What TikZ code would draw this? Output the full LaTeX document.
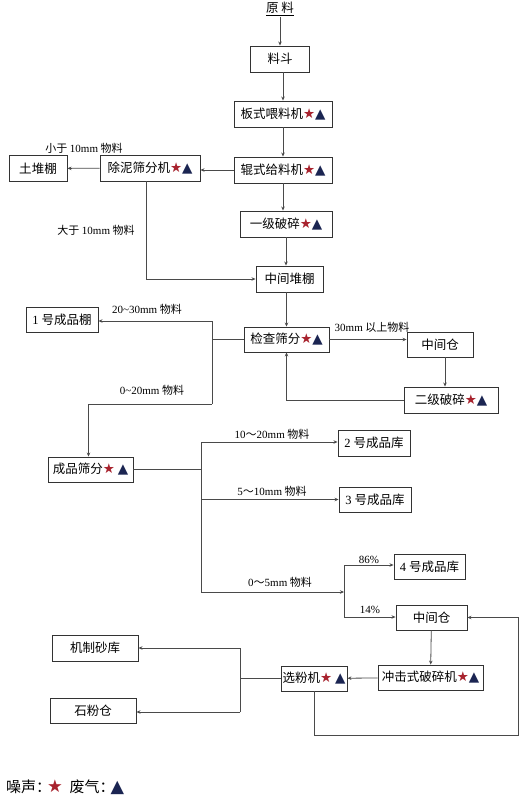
\documentclass[tikz,border=0pt]{standalone}
\usepackage{fontspec}
\setmainfont{Noto Sans CJK SC}
\newfontfamily\latin{Liberation Serif}
\newfontfamily\symfont{DejaVu Sans}
\usetikzlibrary{arrows.meta, calc}
\definecolor{pfInk}{HTML}{333333}
\definecolor{pfLine}{HTML}{4A4A4A}
\definecolor{pfRed}{HTML}{A8232E}
\definecolor{pfNavy}{HTML}{1B2552}
\newcommand{\noise}{{\symfont\fontsize{13.5}{14}\selectfont\textcolor{pfRed}{★}}}
\newcommand{\gas}{{\symfont\fontsize{13.5}{14}\selectfont\textcolor{pfNavy}{▲}}}
\newcommand{\num}[1]{{\latin #1}}
\tikzset{
  unit/.style={
    draw=pfInk, line width=0.9pt, fill=white, inner sep=0pt,
    minimum height=26pt, font=\fontsize{12.5}{13}\selectfont, text=black
  },
  flow/.style={-{Stealth[length=4pt,width=3.5pt]}, line width=0.8pt, draw=pfLine},
  link/.style={line width=0.8pt, draw=pfLine},
  lbl/.style={font=\fontsize{11}{12}\selectfont, inner sep=1pt},
}

\begin{document}
\begin{tikzpicture}[x=1pt, y=-1pt]
  \useasboundingbox (0,0) rectangle (524,797);

  % main line
  \node[lbl, font=\fontsize{12.5}{13}\selectfont] (yl) at (280,9) {\underline{原 料}};
  \node[unit, minimum width=59pt]  (ld)  at (280,59)    {料斗};
  \node[unit, minimum width=98pt]  (bs)  at (283,114)   {板式喂料机\noise\gas};
  \node[unit, minimum width=98pt]  (gs)  at (283,170)   {辊式给料机\noise\gas};
  \node[unit, minimum width=100pt] (cn)  at (150,168)   {除泥筛分机\noise\gas};
  \node[unit, minimum width=58pt]  (td)  at (38,168.5)  {土堆棚};
  \node[unit, minimum width=92pt]  (yj)  at (286,224)   {一级破碎\noise\gas};
  \node[unit, minimum width=67pt]  (zdp) at (289.5,279) {中间堆棚};
  \node[unit, minimum width=85pt, minimum height=25pt] (jc) at (286.5,339.5) {检查筛分\noise\gas};
  \node[unit, minimum width=66pt, minimum height=25pt] (zc1) at (440,344.5) {中间仓};
  \node[unit, minimum width=94pt]  (ej)  at (451,400)   {二级破碎\noise\gas};
  \node[unit, minimum width=72pt, minimum height=25pt] (cp1) at (62,319.5) {\num{1} 号成品棚};

  % finished products
  \node[unit, minimum width=85pt, minimum height=25pt] (cs)  at (90.5,469.5) {成品筛分\noise\ \gas};
  \node[unit, minimum width=72pt]  (ck2) at (374,443)   {\num{2} 号成品库};
  \node[unit, minimum width=72pt, minimum height=25pt] (ck3) at (375,499.5) {\num{3} 号成品库};
  \node[unit, minimum width=71pt, minimum height=25pt] (ck4) at (429.5,566.5) {\num{4} 号成品库};
  \node[unit, minimum width=71pt, minimum height=25pt] (zc2) at (431.5,617.5) {中间仓};
  \node[unit, minimum width=105pt, minimum height=25pt] (cj) at (430.5,677.5) {冲击式破碎机\noise\gas};
  \node[unit, minimum width=66pt, minimum height=25pt] (xf) at (314,678.5) {选粉机\noise\ \gas};
  \node[unit, minimum width=86pt]  (sk)  at (95,648)    {机制砂库};
  \node[unit, minimum width=86pt, minimum height=25pt] (sf) at (93,710.5) {石粉仓};

  % junctions
  \coordinate (j1) at (212,321);
  \coordinate (j2) at (212,404);
  \coordinate (j3) at (201,442);
  \coordinate (j4) at (201,592);
  \coordinate (j5) at (344,565);
  \coordinate (j6) at (344,617);
  \coordinate (j7) at (240,648);
  \coordinate (j8) at (240,712);
  \coordinate (rt) at (518,735);

  % labels
  \node[lbl] (l1)  at (84,148)  {小于 \num{10mm} 物料};
  \node[lbl] (l2)  at (96,230)  {大于 \num{10mm} 物料};
  \node[lbl] (l3)  at (147,309) {\num{20\textasciitilde30mm} 物料};
  \node[lbl] (l4)  at (152,390) {\num{0\textasciitilde20mm} 物料};
  \node[lbl] (l5)  at (372,327) {\num{30mm} 以上物料};
  \node[lbl] (l6)  at (272,434) {\num{10}～\num{20mm} 物料};
  \node[lbl] (l7)  at (272,491) {\num{5}～\num{10mm} 物料};
  \node[lbl] (l8)  at (280,582) {\num{0}～\num{5mm} 物料};
  \node[lbl] (l9)  at (369,560) {\num{86\%}};
  \node[lbl] (l10) at (370,610) {\num{14\%}};

  % legend
  \node[anchor=west, inner sep=0pt, font=\fontsize{15}{16}\selectfont] (key) at (6,787)
    {噪声：\hspace{-4pt}\scalebox{1.3}{\noise}\ \ 废气：\hspace{-4pt}\scalebox{1.3}{\gas}};

  % connectors
  \draw[flow] (yl.south) -- (ld.north);
  \draw[flow] (bs.north |- ld.south) -- (bs.north);
  \draw[flow] (bs) -- (gs);
  \draw[flow] (gs.west) -- (gs.west -| cn.east);
  \draw[flow] (cn) -- (td);
  \draw[flow] (gs.south) -- (gs.south |- yj.north);
  \draw[flow] ([xshift=-4]cn.south) |- (zdp.west);
  \draw[flow] (yj.south) -- (yj.south |- zdp.north);
  \draw[flow] (jc.north |- zdp.south) -- (jc.north);
  \draw[flow] (jc.east) -- (jc.east -| zc1.west);
  \draw[flow] ([xshift=5]zc1.south) -- ([xshift=5]zc1.south |- ej.north);
  \draw[flow] (ej.west) -| (jc.south);
  \draw[link] (jc.west) -- (jc.west -| j1);
  \draw[link] (j1) -- (j2);
  \draw[flow] (j1) -- (j1 -| cp1.east);
  \draw[flow] (j2) -| ([xshift=-2]cs.north);

  \draw[link] (cs.east) -- (cs.east -| j3);
  \draw[link] (j3) -- (j4);
  \draw[flow] (j3) -- (j3 -| ck2.west);
  \draw[flow] (j3 |- ck3.west) -- (ck3.west);
  \draw[flow] (j4) -- (j4 -| j5);
  \draw[link] (j5) -- (j6);
  \draw[flow] (j5) -- (j5 -| ck4.west);
  \draw[flow] (j6) -- (j6 -| zc2.west);
  \draw[flow] (zc2) -- (cj);
  \draw[flow] (cj) -- (xf);
  \draw[link] (xf.west) -- (xf.west -| j7);
  \draw[link] (j7) -- (j8);
  \draw[flow] (j7) -- (j7 -| sk.east);
  \draw[flow] (j8) -- (j8 -| sf.east);
  \draw[flow] (xf.south) |- (rt) |- (zc2.east);
\end{tikzpicture}
\end{document}
